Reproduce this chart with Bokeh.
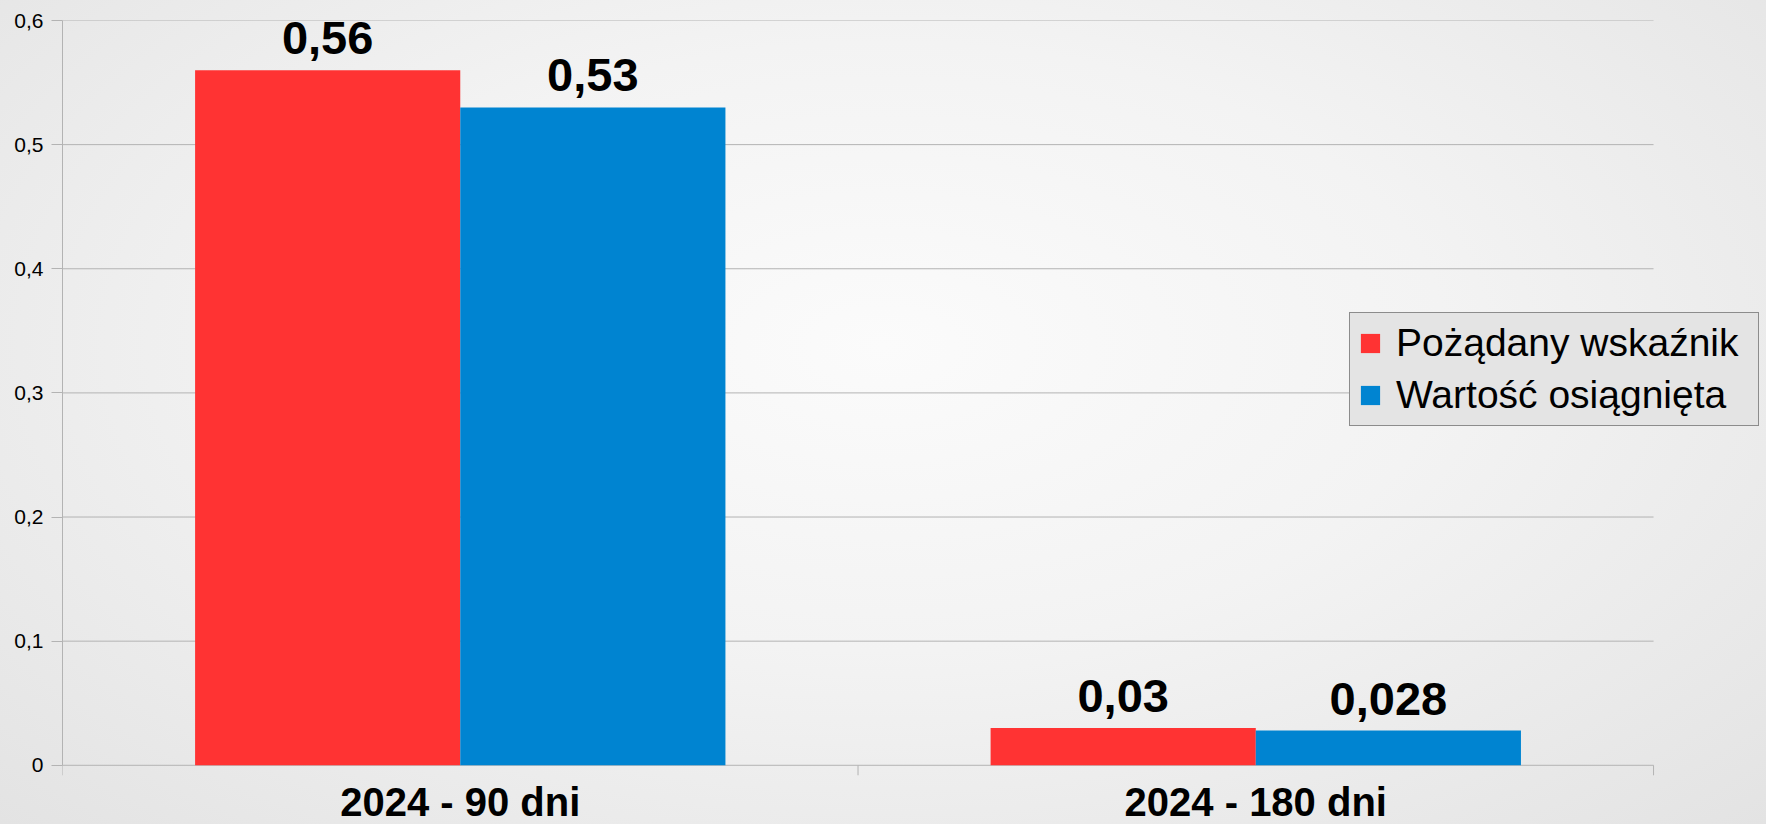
import math
from bokeh.plotting import figure
from bokeh.models import (ColumnDataSource, FixedTicker, LinearAxis, Range1d, Legend,
                          LegendItem, LabelSet)
from bokeh.core.properties import value
from bokeh.embed import file_html
from bokeh.resources import INLINE

# ---- data ----
categories = ["2024 - 90 dni", "2024 - 180 dni"]
series_names = ["Pożądany wskaźnik", "Wartość osiągnięta"]
desired = [0.56, 0.03]
achieved = [0.53, 0.028]
y_ticks = [0, 0.1, 0.2, 0.3, 0.4, 0.5, 0.6]
y_tick_labels = ["0", "0,1", "0,2", "0,3", "0,4", "0,5", "0,6"]
colors = ["#ff3333", "#0084d1"]

FONT = "Liberation Sans"
GRID = "#b3b3b3"

def fmt(v):
    return str(v).replace(".", ",")

n = len(categories)
idx = list(range(n))
src_d = ColumnDataSource(dict(x=[i + 1/3 for i in idx], top=desired,
                              lab=[fmt(v) for v in desired]))
src_a = ColumnDataSource(dict(x=[i + 2/3 for i in idx], top=achieved,
                              lab=[fmt(v) for v in achieved]))
src_cat = ColumnDataSource(dict(x=[i + 0.5 for i in idx], y=[0] * n, lab=categories))
src_grid = ColumnDataSource(dict(y=y_ticks, x0=[0] * len(y_ticks), x1=[n] * len(y_ticks)))
src_sep = ColumnDataSource(dict(x=list(range(n + 1)), y=[0] * (n + 1)))

p = figure(width=1766, height=824, output_backend="svg", toolbar_location=None,
           x_range=Range1d(0, 2.142), y_range=Range1d(-0.0477, 0.6),
           x_axis_type=None, y_axis_type=None,
           min_border_left=62, min_border_right=0, min_border_top=20, min_border_bottom=0)
p.outline_line_color = None
p.background_fill_alpha = 0
p.border_fill_alpha = 0
p.styles = {"background": "radial-gradient(ellipse at 50% 42%, #fbfbfb 0%, #f3f3f3 45%, #e3e3e3 100%)"}
p.xgrid.grid_line_color = None
p.ygrid.grid_line_color = None

# y axis
yax = LinearAxis(ticker=FixedTicker(ticks=y_ticks), bounds=(0, 0.6))
yax.major_label_overrides = {t: l for t, l in zip(y_ticks, y_tick_labels)}
yax.axis_line_color = GRID
yax.major_tick_line_color = GRID
yax.major_tick_out = 11
yax.major_tick_in = 0
yax.minor_tick_line_color = None
yax.major_label_standoff = 8
yax.major_label_text_font = FONT
yax.major_label_text_font_size = "21px"
yax.major_label_text_color = "#000000"
p.add_layout(yax, "left")

# horizontal grid lines (the one at 0 is the category axis line)
p.segment(x0="x0", x1="x1", y0="y", y1="y", source=src_grid, line_color=GRID, line_width=1)
# category separator ticks
p.ray(x="x", y="y", length=10, length_units="screen", angle=-math.pi / 2,
      source=src_sep, line_color=GRID, line_width=1)

r1 = p.vbar(x="x", top="top", width=1/3, source=src_d, color=colors[0], line_width=0)
r2 = p.vbar(x="x", top="top", width=1/3, source=src_a, color=colors[1], line_width=0)

for s in (src_d, src_a):
    p.add_layout(LabelSet(x="x", y="top", text="lab", source=s, text_align="center",
                          text_baseline="alphabetic", y_offset=16,
                          text_font=value(FONT), text_font_style="bold",
                          text_font_size="47px", text_color="#000000"))

p.add_layout(LabelSet(x="x", y="y", text="lab", source=src_cat, text_align="center",
                      text_baseline="alphabetic", y_offset=-51,
                      text_font=value(FONT), text_font_style="bold",
                      text_font_size="40px", text_color="#000000"))

legend = Legend(items=[LegendItem(label=series_names[0], renderers=[r1]),
                       LegendItem(label=series_names[1], renderers=[r2])],
                location=(1287, 398))
legend.margin = 0
legend.padding = 8
legend.spacing = 8
legend.glyph_width = 24
legend.glyph_height = 24
legend.label_standoff = 14
legend.label_width = 354
legend.label_text_font = FONT
legend.label_text_font_size = "39px"
legend.label_text_color = "#000000"
legend.background_fill_color = "#e4e4e4"
legend.background_fill_alpha = 1
legend.border_line_color = "#333333"
legend.border_line_width = 1
p.add_layout(legend, "center")

open("out.html", "w").write(file_html(p, INLINE))
